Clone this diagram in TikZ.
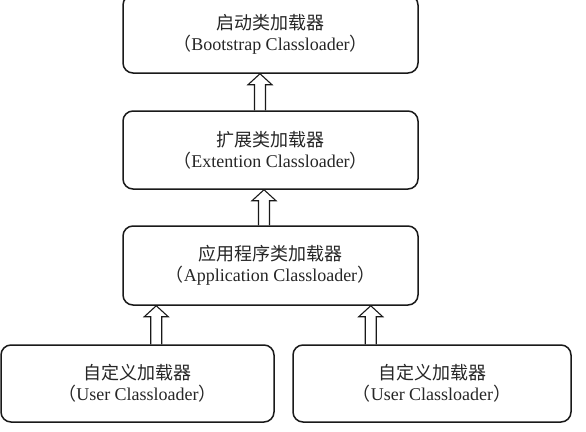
\documentclass[tikz,border=0pt]{standalone}
\usepackage{fontspec}
\setmainfont{Liberation Serif}
\newfontfamily\cjk{Noto Sans CJK SC}
\usetikzlibrary{calc, positioning}
\tikzset{
    loaderbox/.style={draw=black!90, line width=1.5pt, rounded corners=10pt, align=center,
        minimum width=295pt, minimum height=78pt, inner sep=0pt, text=black!85,
        font=\fontsize{18}{23}\selectfont},
    uparrow/.style={line width=1.1pt, draw=black!90, line join=miter,
        to path={let \p1=(\tikztostart), \p2=(\tikztotarget) in
            (\x1-5.5pt,\y1) -- (\x1-5.5pt,\y2-11pt) -- (\x1-12pt,\y2-11pt) -- (\x1,\y2)
            -- (\x1+12pt,\y2-11pt) -- (\x1+5.5pt,\y2-11pt) -- (\x1+5.5pt,\y1)}},
}
\begin{document}
\begin{tikzpicture}[x=1pt, y=-1pt]
    \useasboundingbox (0,0) rectangle (586,431);

    \node[loaderbox] (boot) at (270.5,34) {\raisebox{-2pt}{\cjk 启动类加载器}\\{\cjk （}Bootstrap Classloader{\cjk ）}};
    \node[loaderbox] (ext) at (270.5,150) {\raisebox{-2pt}{\cjk 扩展类加载器}\\{\cjk （}Extention Classloader{\cjk ）}};
    \node[loaderbox, minimum height=79pt] (app) at (270.5,265.5) {\raisebox{-2pt}{\cjk 应用程序类加载器}\\{\cjk （}Application Classloader{\cjk ）}};
    \node[loaderbox, minimum width=273pt, minimum height=77pt] (user1) at (137.5,383.5) {\raisebox{-2pt}{\cjk 自定义加载器}\\{\cjk （}User Classloader{\cjk ）}};
    \node[loaderbox, minimum width=278pt, minimum height=77pt] (user2) at (432,383.5) {\raisebox{-2pt}{\cjk 自定义加载器}\\{\cjk （}User Classloader{\cjk ）}};

    \draw[uparrow] ([xshift=-10.5pt]ext.north) to ([xshift=-10.5pt]boot.south);
    \draw[uparrow] ([xshift=-6.5pt]app.north) to ([xshift=-6.5pt]ext.south);
    \draw[uparrow] ([xshift=34pt]app.south west |- user1.north) to ([xshift=34pt]app.south west);
    \draw[uparrow] ([xshift=-48pt]app.south east |- user2.north) to ([xshift=-48pt]app.south east);
\end{tikzpicture}
\end{document}
